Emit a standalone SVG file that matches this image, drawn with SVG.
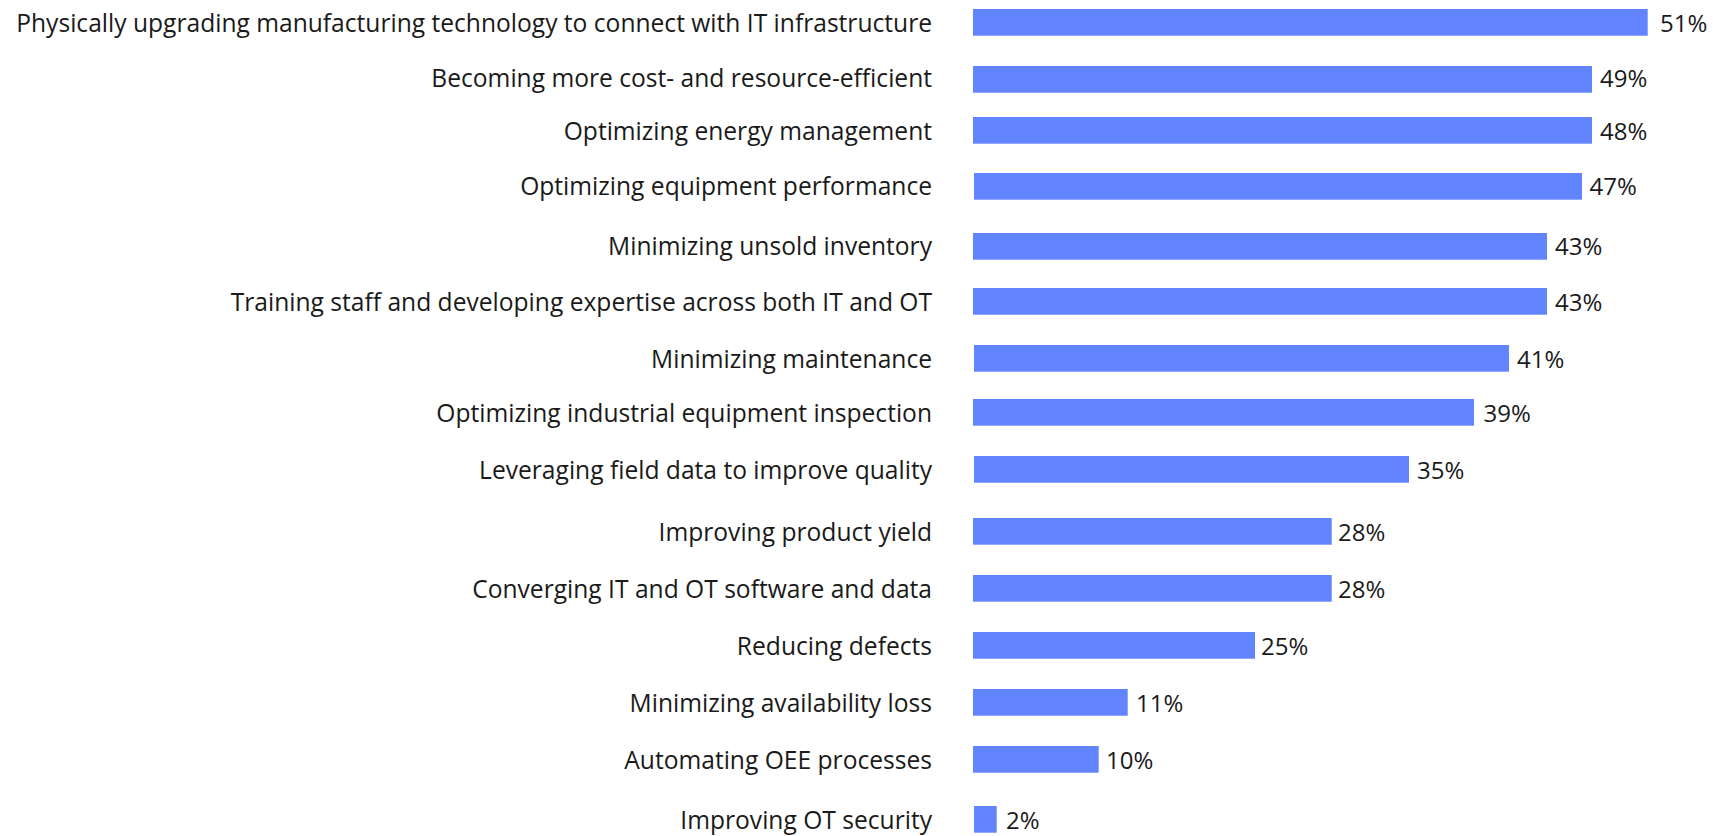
<svg xmlns="http://www.w3.org/2000/svg" width="1713" height="836" viewBox="0 0 1713 836">
<style>
.lbl{font-family:"Open Sans","Noto Sans",sans-serif;font-size:24.6px;fill:#1a1a1a;text-anchor:end}
.val{font-family:"Open Sans","Noto Sans",sans-serif;font-size:24px;fill:#1a1a1a}
.bar{fill:#6285FF}
</style>
<rect width="1713" height="836" fill="#ffffff"/>
<g id="row1"><text class="lbl" x="932" y="32">Physically upgrading manufacturing technology to connect with IT infrastructure</text><rect class="bar" x="973" y="9" width="674.7" height="26.7"/><text class="val" x="1660" y="32">51%</text></g>
<g id="row2"><text class="lbl" x="932" y="87">Becoming more cost- and resource-efficient</text><rect class="bar" x="973" y="66" width="619" height="26.7"/><text class="val" x="1600" y="87">49%</text></g>
<g id="row3"><text class="lbl" x="932" y="140">Optimizing energy management</text><rect class="bar" x="973" y="117" width="619" height="26.7"/><text class="val" x="1600" y="140">48%</text></g>
<g id="row4"><text class="lbl" x="932" y="195">Optimizing equipment performance</text><rect class="bar" x="974" y="173" width="608" height="26.7"/><text class="val" x="1589.5" y="195">47%</text></g>
<g id="row5"><text class="lbl" x="932" y="255">Minimizing unsold inventory</text><rect class="bar" x="973" y="233" width="574" height="26.7"/><text class="val" x="1555" y="255">43%</text></g>
<g id="row6"><text class="lbl" x="932" y="311">Training staff and developing expertise across both IT and OT</text><rect class="bar" x="973" y="288" width="574" height="26.7"/><text class="val" x="1555" y="311">43%</text></g>
<g id="row7"><text class="lbl" x="932" y="368">Minimizing maintenance</text><rect class="bar" x="974" y="345" width="535" height="26.7"/><text class="val" x="1517" y="368">41%</text></g>
<g id="row8"><text class="lbl" x="932" y="422">Optimizing industrial equipment inspection</text><rect class="bar" x="973" y="399" width="501" height="26.7"/><text class="val" x="1483.5" y="422">39%</text></g>
<g id="row9"><text class="lbl" x="932" y="479">Leveraging field data to improve quality</text><rect class="bar" x="974" y="456" width="435" height="26.7"/><text class="val" x="1417" y="479">35%</text></g>
<g id="row10"><text class="lbl" x="932" y="541">Improving product yield</text><rect class="bar" x="973" y="518" width="358.7" height="26.7"/><text class="val" x="1338" y="541">28%</text></g>
<g id="row11"><text class="lbl" x="932" y="598">Converging IT and OT software and data</text><rect class="bar" x="973" y="575" width="358.7" height="26.7"/><text class="val" x="1338" y="598">28%</text></g>
<g id="row12"><text class="lbl" x="932" y="655">Reducing defects</text><rect class="bar" x="973" y="632" width="282" height="26.7"/><text class="val" x="1261" y="655">25%</text></g>
<g id="row13"><text class="lbl" x="932" y="712">Minimizing availability loss</text><rect class="bar" x="973" y="689" width="154.7" height="26.7"/><text class="val" x="1136" y="712">11%</text></g>
<g id="row14"><text class="lbl" x="932" y="769">Automating OEE processes</text><rect class="bar" x="973" y="746" width="125.7" height="26.7"/><text class="val" x="1106" y="769">10%</text></g>
<g id="row15"><text class="lbl" x="932" y="829">Improving OT security</text><rect class="bar" x="974" y="806" width="22.7" height="26.7"/><text class="val" x="1006" y="829">2%</text></g>
<g id="connectors"></g>
</svg>
